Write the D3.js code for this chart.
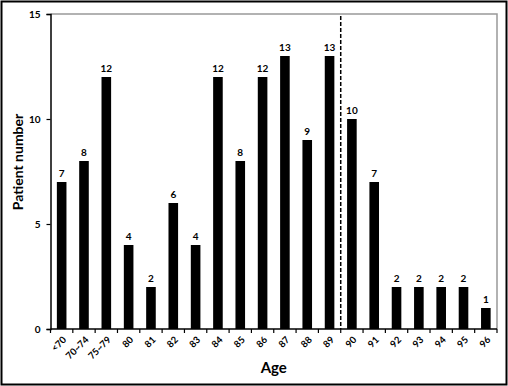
<!DOCTYPE html>
<html><head><meta charset="utf-8">
<script src="https://cdn.jsdelivr.net/npm/d3@7"></script>
<style>body{margin:0;background:#fff;} svg{display:block;} text{font-family:Lato, "Open Sans", sans-serif;}</style>
</head><body>
<svg id="c" width="508" height="386"></svg>
<script>
const categories = ["<70","70~74","75~79","80","81","82","83","84","85","86","87","88","89","90","91","92","93","94","95","96"];
const values = [7,8,12,4,2,6,4,12,8,12,13,9,13,10,7,2,2,2,2,1];
const yTicks = [0,5,10,15];
const dividerAfter = "89";

const svg = d3.select("#c");
const W = 508, H = 386;
const m = {left:50.5, right:11, top:14, bottom:57};
const x0 = m.left, x1 = W - m.right, y0 = H - m.bottom, y1 = m.top;

svg.append("rect").attr("x",1.5).attr("y",1.5).attr("width",W-3).attr("height",H-3)
  .attr("fill","#fff").attr("stroke","#000").attr("stroke-width",2);

const x = d3.scaleBand().domain(categories).range([x0, x1]).paddingInner(0.57).paddingOuter(0.285);
const y = d3.scaleLinear().domain([0,15]).range([y0, y1]);

svg.append("path").attr("d",`M${x0},${y1}H${x1}V${y0}`).attr("fill","none").attr("stroke","#999").attr("stroke-width",1.5);

svg.selectAll("rect.bar").data(values).enter().append("rect").attr("class","bar")
  .attr("x",(d,i)=>x(categories[i])).attr("width",x.bandwidth())
  .attr("y",d=>y(d)).attr("height",d=>y0-y(d)).attr("fill","#000");

svg.selectAll("text.val").data(values).enter().append("text").attr("class","val")
  .attr("x",(d,i)=>x(categories[i])+x.bandwidth()/2).attr("y",d=>y(d)-5)
  .attr("text-anchor","middle").attr("font-size",10).attr("font-weight","bold").text(d=>d);

const yAxis = d3.axisLeft(y).tickValues(yTicks).tickSize(4).tickPadding(6);
const gy = svg.append("g").attr("transform",`translate(${x0},0)`).call(yAxis);
gy.select(".domain").attr("stroke","#000").attr("stroke-width",1.5);
gy.selectAll(".tick line").attr("stroke","#000").attr("stroke-width",1.2);
gy.selectAll(".tick text").attr("font-size",10).attr("font-weight","bold").attr("fill","#000").attr("font-family","Lato, sans-serif");

const step = x.step();
const gx = svg.append("g").attr("transform",`translate(0,${y0})`);
gx.append("line").attr("x1",x0).attr("x2",x1).attr("stroke","#000").attr("stroke-width",1.5);
const bounds = d3.range(categories.length+1).map(i=> x0 + i*step);
gx.selectAll("line.tk").data(bounds).enter().append("line").attr("class","tk")
  .attr("x1",d=>d).attr("x2",d=>d).attr("y1",0).attr("y2",4).attr("stroke","#000").attr("stroke-width",1.2);
gx.selectAll("text.xl").data(categories).enter().append("text").attr("class","xl")
  .attr("transform",d=>`translate(${x(d)+x.bandwidth()/2+3},9) rotate(-45)`)
  .attr("text-anchor","end").attr("dy","0.35em").attr("font-size",9.5).attr("font-weight","bold").text(d=>d);

const dx = x(dividerAfter) + x.bandwidth() + (step - x.bandwidth())/2;
svg.append("line").attr("x1",dx).attr("x2",dx).attr("y1",y1+2).attr("y2",y0)
  .attr("stroke","#000").attr("stroke-width",1.5).attr("stroke-dasharray","4,2");

svg.append("text").attr("transform",`translate(23,162) rotate(-90)`)
  .attr("text-anchor","middle").attr("font-size",14).attr("font-weight","bold").text("Patient number");
svg.append("text").attr("x",(x0+x1)/2).attr("y",373)
  .attr("text-anchor","middle").attr("font-size",15).attr("font-weight","bold").text("Age");
</script>
</body></html>
